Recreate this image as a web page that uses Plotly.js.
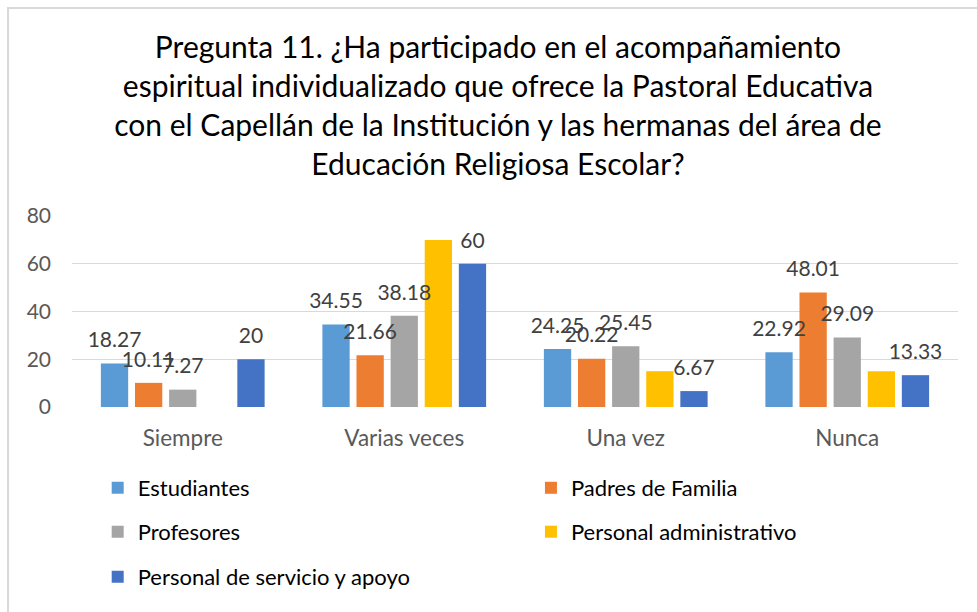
<!DOCTYPE html>
<html><head><meta charset="utf-8">
<script src="https://cdn.plot.ly/plotly-3.0.1.min.js"></script>
<style>html,body{margin:0;padding:0;background:#fff;}</style>
</head><body>
<div id="chart" style="width:977px;height:612px;"></div>
<script>
const categories = ['Siempre', 'Varias veces', 'Una vez', 'Nunca'];
const seriesNames = ['Estudiantes', 'Padres de Familia', 'Profesores', 'Personal administrativo', 'Personal de servicio y apoyo'];
const estudiantes = [18.27, 34.55, 24.25, 22.92];
const padres = [10.11, 21.66, 20.22, 48.01];
const profesores = [7.27, 38.18, 25.45, 29.09];
const administrativo = [0, 70, 15, 15];
const servicio = [20, 60, 6.67, 13.33];
const showLabels = [true, true, true, false, true];
const yTickVals = [0, 20, 40, 60, 80];
const titleText = 'Pregunta 11. ¿Ha participado en el acompañamiento<br>espiritual individualizado que ofrece la Pastoral Educativa<br>con el Capellán de la Institución y las hermanas del área de<br>Educación Religiosa Escolar?';

const seriesValues = [estudiantes, padres, profesores, administrativo, servicio];
const colors = ['#5B9BD5', '#ED7D31', '#A5A5A5', '#FFC000', '#4472C4'];
const legendIds = ['legend', 'legend2', 'legend3', 'legend4', 'legend5'];
const FONT = 'Lato, "Open Sans", sans-serif';

const traces = [];
seriesValues.forEach((vals, i) => {
  traces.push({
    type: 'bar', name: seriesNames[i], x: categories, y: vals,
    marker: {color: colors[i]}, offsetgroup: 'g' + i, alignmentgroup: 'a',
    legend: legendIds[i], hoverinfo: 'skip'
  });
});
seriesValues.forEach((vals, i) => {
  traces.push({
    type: 'scatter', mode: 'markers+text', x: categories, y: vals,
    text: showLabels[i] ? vals.map(v => String(v)) : vals.map(() => ''),
    textposition: 'top center',
    textfont: {family: FONT, size: 21, color: '#404040'},
    marker: {size: 16, opacity: 0, color: colors[i]},
    offsetgroup: 'g' + i, alignmentgroup: 'a',
    showlegend: false, hoverinfo: 'skip', cliponaxis: false
  });
});

const legendBase = {
  orientation: 'h', xanchor: 'left', yanchor: 'middle',
  font: {family: FONT, size: 22, color: '#000'},
  bgcolor: 'rgba(0,0,0,0)', itemclick: false, itemdoubleclick: false
};
const col1 = 0.029, col2 = 0.518;
const row1 = -0.424, row2 = -0.654, row3 = -0.890;

const layout = {
  width: 977, height: 612,
  margin: {l: 72, r: 19, t: 216, b: 205},
  paper_bgcolor: '#fff', plot_bgcolor: '#fff',
  font: {family: FONT},
  title: {text: titleText, font: {family: FONT, size: 30, color: '#000'},
          x: 0.5097, xanchor: 'center', xref: 'container', y: 0.905, yanchor: 'top'},
  barmode: 'group', bargap: 0.23, bargroupgap: 0.2,
  scattermode: 'group', scattergap: 0.23,
  xaxis: {type: 'category', showgrid: false, zeroline: false, showline: false,
          tickfont: {family: FONT, size: 22.5, color: '#595959'}, ticks: '', ticklabelstandoff: 15},
  yaxis: {range: [0, 80], tickvals: yTickVals, showgrid: true, gridcolor: '#D9D9D9', gridwidth: 1.3,
          zeroline: false, showline: false, ticks: '',
          tickfont: {family: FONT, size: 21, color: '#595959'}, ticklabelstandoff: 20},
  legend: Object.assign({}, legendBase, {x: col1, y: row1}),
  legend2: Object.assign({}, legendBase, {x: col2, y: row1}),
  legend3: Object.assign({}, legendBase, {x: col1, y: row2}),
  legend4: Object.assign({}, legendBase, {x: col2, y: row2}),
  legend5: Object.assign({}, legendBase, {x: col1, y: row3}),
  shapes: [{type: 'rect', xref: 'paper', yref: 'paper', x0: -0.0722, x1: 1.2, y0: -1.2, y1: 2.089,
            line: {color: '#D9D9D9', width: 2}, fillcolor: 'rgba(0,0,0,0)', layer: 'below'}],
  showlegend: true
};

Plotly.newPlot('chart', traces, layout, {staticPlot: true, displayModeBar: false});
</script>
</body></html>
